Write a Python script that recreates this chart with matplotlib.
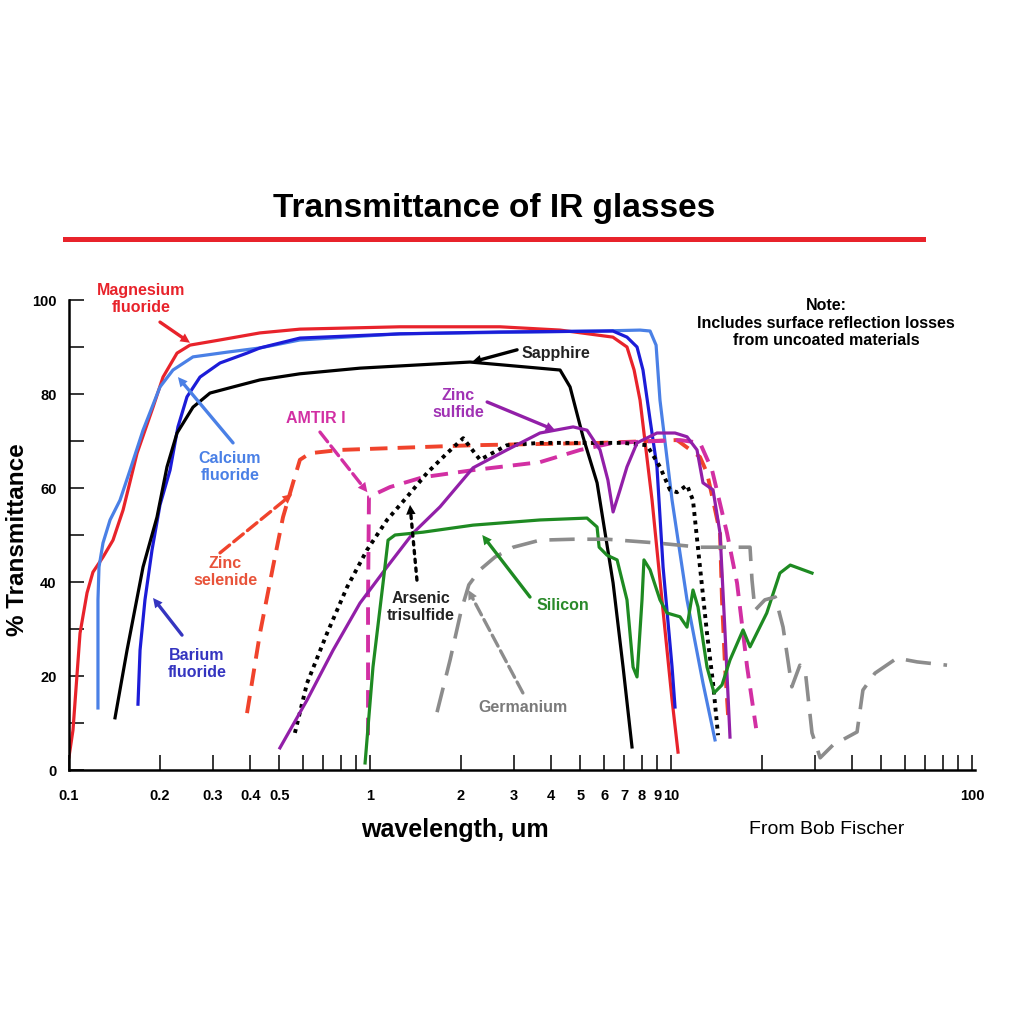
import matplotlib
matplotlib.use("Agg")
import matplotlib.pyplot as plt
from matplotlib.lines import Line2D

plt.rcParams["font.family"] = ["Liberation Sans", "DejaVu Sans"]

# wavelength (um) / % transmittance
mgf2_wl = [0.1, 0.1031, 0.1088, 0.1148, 0.1201, 0.1297, 0.140, 0.1512, 0.1683, 0.1902,
           0.2053, 0.2285, 0.2523, 0.3175, 0.431, 0.585, 1.258, 2.704, 4.28, 6.41,
           7.14, 7.54, 7.89, 8.65, 9.33, 10.08, 10.55]
mgf2_t = [2.8, 8.5, 29.1, 37.7, 42.1, 45.3, 48.9, 55.3, 67.4, 77.2,
          83.6, 88.7, 90.4, 91.5, 93.0, 93.8, 94.3, 94.3, 93.6, 92.1,
          90.0, 85.1, 78.7, 57.4, 36.2, 14.9, 3.8]

caf2_wl = [0.1248, 0.1248, 0.1258, 0.1297, 0.1369, 0.1477, 0.1595, 0.1762, 0.2006, 0.2215,
           0.2582, 0.335, 0.431, 0.585, 1.258, 5.81, 7.89, 8.52, 8.92, 9.19,
           10.08, 11.3, 12.77, 14.0]
caf2_t = [13.2, 36.2, 43.2, 48.3, 53.2, 57.4, 63.8, 72.3, 81.5, 85.1,
          87.9, 88.9, 89.8, 91.5, 92.8, 93.4, 93.6, 93.4, 90.4, 78.7,
          57.4, 36.2, 18.5, 6.4]

baf2_wl = [0.1695, 0.1722, 0.1788, 0.1887, 0.2006, 0.2166, 0.2301, 0.2466, 0.2724, 0.3175,
           0.3903, 0.431, 0.585, 1.258, 2.704, 6.41, 7.14, 7.71, 8.07, 8.52,
           8.98, 9.41, 10.08, 10.31]
baf2_t = [14.0, 25.5, 36.2, 46.8, 56.4, 63.8, 73.0, 79.4, 83.6, 86.6,
          88.7, 89.8, 91.9, 92.8, 93.2, 93.4, 92.1, 90.0, 85.1, 74.5,
          64.5, 43.2, 21.9, 13.4]

sapph_wl = [0.1422, 0.1559, 0.1762, 0.196, 0.2116, 0.2285, 0.2582, 0.294, 0.3507, 0.431,
            0.585, 0.926, 2.15, 4.28, 4.62, 5.10, 5.68, 6.42, 6.93, 7.42]
sapph_t = [11.1, 25.5, 43.2, 53.8, 64.5, 71.7, 77.2, 80.2, 81.5, 83.0,
           84.3, 85.5, 86.8, 85.1, 81.5, 70.9, 61.1, 39.8, 21.9, 4.9]

znse_wl = [0.3903, 0.431, 0.476, 0.514, 0.555, 0.585, 0.632, 0.795, 2.20, 5.81,
           10.47, 12.48, 13.17, 13.79, 14.55, 14.77, 15.12, 15.47]
znse_t = [12.1, 29.1, 43.2, 53.8, 61.1, 66.0, 67.4, 68.1, 69.1, 69.6,
          70.2, 66.6, 63.2, 57.4, 50.4, 36.2, 21.9, 11.7]

amtir_wl = [0.985, 0.985, 0.992, 1.165, 1.50, 2.20, 3.67, 4.99, 6.42, 10.71,
            12.48, 13.69, 15.35, 16.57, 17.9, 19.17]
amtir_t = [7.4, 36.2, 58.1, 60.2, 62.3, 63.8, 65.5, 68.1, 69.6, 70.2,
           69.6, 63.8, 50.4, 39.8, 21.9, 8.9]

as2s3_wl = [0.563, 0.618, 0.720, 0.839, 0.977, 1.139, 1.327, 1.547, 1.803, 2.04,
            2.32, 2.85, 3.67, 6.93, 8.32, 9.19, 9.92, 10.47, 11.3, 11.83,
            12.48, 13.17, 13.79, 14.33]
as2s3_t = [7.9, 18.5, 29.1, 38.9, 46.8, 53.2, 58.1, 63.2, 67.4, 70.6,
           66.0, 69.1, 69.6, 69.6, 69.1, 64.5, 59.6, 59.1, 60.6, 57.4,
           43.2, 29.1, 18.5, 7.4]

zns_wl = [0.502, 0.618, 0.754, 0.926, 1.139, 1.39, 1.709, 2.20, 2.85, 3.67,
          4.73, 5.26, 5.81, 6.17, 6.42, 6.77, 7.14, 7.71, 8.98, 10.31,
          11.3, 12.2, 12.77, 13.79, 14.55, 15.12, 15.70]
zns_t = [4.7, 14.9, 25.5, 35.5, 43.2, 50.4, 56.0, 64.3, 68.1, 71.7,
         73.0, 72.3, 68.1, 61.7, 54.9, 59.6, 64.5, 69.6, 71.7, 71.7,
         70.9, 68.1, 61.1, 59.6, 50.4, 29.1, 7.0]

si_wl = [0.963, 1.023, 1.105, 1.148, 1.211, 1.50, 2.20, 3.67, 5.26, 5.68,
         5.77, 6.13, 6.62, 7.14, 7.48, 7.71, 8.01, 8.13, 8.52, 9.19,
         9.70, 10.71, 11.3, 11.83, 12.29, 13.17, 13.9, 14.77, 15.70, 17.35,
         18.30, 20.8, 23.0, 24.9, 29.4]
si_t = [1.5, 21.9, 39.8, 48.9, 50.0, 50.6, 52.1, 53.2, 53.6, 51.7,
        47.4, 45.7, 44.7, 36.2, 21.9, 19.8, 36.2, 44.7, 42.6, 36.2,
        33.4, 32.6, 30.4, 38.3, 34.7, 21.9, 16.4, 18.1, 23.4, 29.8,
        26.2, 33.4, 41.9, 43.6, 41.9]

ge_wl = [1.67, 1.845, 2.01, 2.13, 2.32, 2.60, 2.99, 3.67, 4.73, 6.13,
         8.98, 12.48, 18.30, 18.58, 19.01, 20.5, 22.2, 23.56, 25.2, 26.8,
         27.9, 29.4, 31.3, 34.5, 41.5, 43.4, 47.6, 56.3, 65.7, 82.6]
ge_t = [12.3, 23.4, 34.0, 39.4, 42.6, 45.3, 47.4, 48.9, 49.1, 49.1,
        48.3, 47.4, 47.4, 40.4, 34.0, 36.2, 36.8, 30.4, 17.7, 22.3,
        21.3, 7.9, 2.6, 5.3, 8.1, 17.0, 20.6, 23.8, 23.0, 22.3]

xtick_vals = [0.1, 0.2, 0.3, 0.4, 0.5, 0.6, 0.7, 0.8, 0.9, 1, 2, 3, 4, 5, 6, 7, 8, 9, 10,
              20, 30, 40, 50, 60, 70, 80, 90, 100]
xtick_text = ["0.1", "0.2", "0.3", "0.4", "0.5", "", "", "", "", "1", "2", "3", "4", "5",
              "6", "7", "8", "9", "10", "", "", "", "", "", "", "", "", "100"]
ytick_vals = list(range(0, 101, 10))
ytick_text = ["0", "", "20", "", "40", "", "60", "", "80", "", "100"]

RED = "#e8232b"
LBLUE = "#4a80e6"
BLUE = "#1c1cd8"
ORANGE = "#f0432c"
MAGENTA = "#d22fa3"
PURPLE = "#921fa8"
GREEN = "#1e8a22"
GRAY = "#8c8c8c"

fig = plt.figure(figsize=(10.24, 10.24), dpi=100)
ax = fig.add_axes([69 / 1024, 1 - 770 / 1024, 906 / 1024, 470 / 1024])

ax.plot(mgf2_wl, mgf2_t, color=RED, lw=2.3)
ax.plot(caf2_wl, caf2_t, color=LBLUE, lw=2.3)
ax.plot(baf2_wl, baf2_t, color=BLUE, lw=2.3)
ax.plot(sapph_wl, sapph_t, color="black", lw=2.3)
ax.plot(znse_wl, znse_t, color=ORANGE, lw=2.8, dashes=(4.5, 2.6))
ax.plot(amtir_wl, amtir_t, color=MAGENTA, lw=2.8, dashes=(4.5, 2.6))
ax.plot(as2s3_wl, as2s3_t, color="black", lw=2.8, dashes=(1, 1.2))
ax.plot(zns_wl, zns_t, color=PURPLE, lw=2.3)
ax.plot(si_wl, si_t, color=GREEN, lw=2.3)
ax.plot(ge_wl, ge_t, color=GRAY, lw=2.6, dashes=(7, 3.5))

ax.set_xscale("log")
ax.set_xlim(0.1, 102.3)
ax.set_ylim(0, 100)
ax.set_xticks(xtick_vals)
ax.set_xticklabels(xtick_text)
ax.minorticks_off()
ax.set_yticks(ytick_vals)
ax.set_yticklabels(ytick_text)
for side in ["top", "right"]:
    ax.spines[side].set_visible(False)
for side in ["left", "bottom"]:
    ax.spines[side].set_linewidth(1.8)
ax.tick_params(axis="both", direction="in", length=11, width=1.1, labelsize=10.5)
ax.tick_params(axis="x", pad=14)
ax.tick_params(axis="y", pad=9)
for lab in ax.get_xticklabels() + ax.get_yticklabels():
    lab.set_fontweight("bold")


def label_arrow(text, tx, ty, x0, y0, x1, y1, color, tcolor=None, ls="-"):
    ax.text(tx, ty, text, color=tcolor or color, fontsize=11.5, fontweight="bold",
            ha="center", va="center", linespacing=1.2)
    ax.annotate("", xy=(x1, y1), xytext=(x0, y0),
                arrowprops=dict(arrowstyle="-", color=color, lw=2.4, ls=ls,
                                shrinkA=0, shrinkB=6))
    ax.annotate("", xy=(x1, y1), xytext=(x0, y0),
                arrowprops=dict(arrowstyle="-|>", color=color, lw=0,
                                mutation_scale=17, shrinkA=0, shrinkB=0))


label_arrow("Magnesium\nfluoride", 0.1735, 100.2, 0.2006, 95.3, 0.2523, 90.9, RED)
label_arrow("Calcium\nfluoride", 0.3426, 64.5, 0.3507, 69.6, 0.2301, 83.6, LBLUE)
label_arrow("Barium\nfluoride", 0.2662, 22.6, 0.2374, 28.7, 0.1902, 36.6, "#3535c0")
label_arrow("Zinc\nselenide", 0.330, 42.1, 0.3175, 46.2, 0.551, 58.7, ORANGE,
            tcolor="#e8533a", ls="--")
label_arrow("AMTIR I", 0.6615, 74.7, 0.682, 71.9, 0.98, 59.1, MAGENTA, ls="--")
label_arrow("Sapphire", 4.15, 88.7, 3.08, 89.4, 2.18, 86.8, "black", tcolor="#222222")
label_arrow("Zinc\nsulfide", 1.96, 77.9, 2.45, 78.3, 4.12, 72.3, PURPLE, tcolor="#a032b4")
label_arrow("Arsenic\ntrisulfide", 1.477, 34.7, 1.432, 40.4, 1.358, 56.4, "black",
            tcolor="#222222", ls=":")
label_arrow("Silicon", 4.38, 34.9, 3.40, 36.8, 2.36, 50.0, GREEN, tcolor="#2a8a2a")
label_arrow("Germanium", 3.22, 13.4, 3.22, 16.4, 2.12, 38.3, GRAY, tcolor="#7a7a7a", ls="--")

for t in ax.texts:
    t.set_clip_on(False)

fig.text(494 / 1024, 1 - 208 / 1024, "Transmittance of IR glasses", fontsize=24,
         fontweight="bold", ha="center", va="center")
fig.add_artist(Line2D([65 / 1024, 923 / 1024], [1 - 239 / 1024, 1 - 239 / 1024],
                      color=RED, lw=3.6))
fig.text(826 / 1024, 1 - 323 / 1024,
         "Note:\nIncludes surface reflection losses\nfrom uncoated materials",
         fontsize=11.5, fontweight="bold", ha="center", va="center", linespacing=1.2)
fig.text(18 / 1024, 1 - 540 / 1024, "% Transmittance", fontsize=17.5, fontweight="bold",
         rotation=90, ha="center", va="center")
fig.text(455 / 1024, 1 - 830 / 1024, "wavelength, um", fontsize=18, fontweight="bold",
         ha="center", va="center")
fig.text(827 / 1024, 1 - 830 / 1024, "From Bob Fischer", fontsize=14,
         ha="center", va="center")

fig.savefig("out.png", dpi=100)
